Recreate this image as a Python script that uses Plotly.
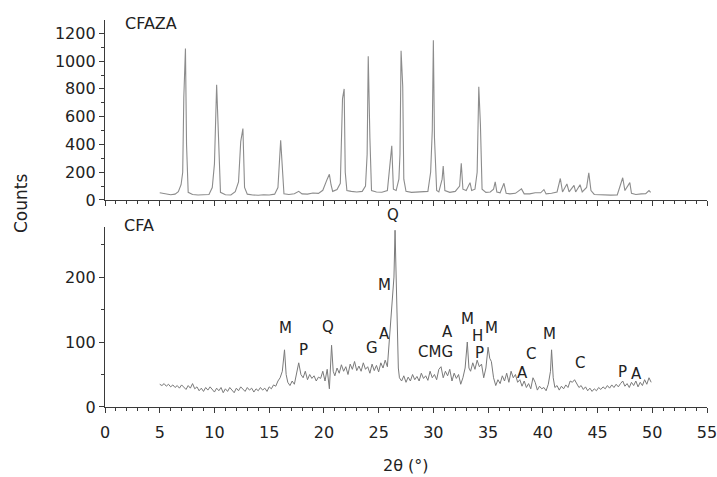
import plotly.graph_objects as go
from plotly.subplots import make_subplots

# ---------------- data ----------------
cfaza_2theta = [5.0, 5.5, 6.0, 6.4, 6.7, 6.95, 7.1, 7.2, 7.35, 7.45, 7.6, 8.0, 8.5, 9.0, 9.5, 9.8,
                10.0, 10.2, 10.3, 10.4, 10.55, 11.0, 11.5, 11.9, 12.2, 12.4, 12.6, 12.75, 13.0, 13.5,
                14.0, 14.5, 15.0, 15.5, 15.8, 16.05, 16.2, 16.35, 16.8, 17.3, 17.7, 18.0, 18.5, 19.0,
                19.5, 19.9, 20.3, 20.5, 20.65, 20.8, 21.2, 21.5, 21.7, 21.85, 21.95, 22.1, 22.5, 23.0,
                23.5, 23.8, 23.95, 24.05, 24.2, 24.35, 24.8, 25.3, 25.8, 26.05, 26.2, 26.35, 26.6,
                26.85, 26.95, 27.05, 27.2, 27.3, 27.5, 28.0, 28.5, 29.0, 29.5, 29.75, 29.9, 30.0,
                30.1, 30.3, 30.5, 30.8, 30.9, 31.05, 31.5, 32.0, 32.4, 32.55, 32.7, 33.0, 33.35,
                33.5, 33.8, 34.0, 34.15, 34.3, 34.45, 34.8, 35.2, 35.5, 35.65, 35.8, 36.1, 36.45,
                36.65, 37.0, 37.5, 38.05, 38.3, 38.8, 39.3, 39.8, 40.1, 40.3, 40.8, 41.3, 41.6,
                41.8, 42.2, 42.4, 42.85, 43.0, 43.4, 43.6, 44.0, 44.2, 44.4, 44.7, 45.5, 46.2,
                46.8, 47.3, 47.5, 47.95, 48.1, 48.5, 49.0, 49.4, 49.7, 49.85]
cfaza_counts = [52, 45, 38, 42, 60, 110, 200, 740, 1090, 400, 55, 40, 36, 38, 40, 90,
                260, 830, 600, 380, 55, 38, 36, 60, 130, 420, 515, 90, 42, 36,
                34, 38, 36, 42, 90, 430, 250, 45, 40, 45, 62, 44, 42, 50,
                48, 70, 150, 185, 110, 62, 75, 120, 730, 800, 200, 68, 62, 58,
                62, 100, 330, 1035, 450, 68, 58, 56, 68, 240, 390, 78, 68,
                150, 330, 1075, 820, 150, 62, 55, 58, 60, 62, 200, 500, 1150,
                450, 68, 58, 150, 245, 68, 55, 62, 100, 265, 78, 68, 125,
                68, 78, 200, 815, 540, 78, 55, 58, 78, 130, 58, 52, 120,
                48, 44, 48, 80, 44, 44, 52, 52, 75, 44, 48, 58, 155,
                58, 115, 58, 105, 58, 110, 58, 90, 195, 68, 40, 35, 35,
                36, 160, 68, 125, 48, 40, 44, 46, 68, 55]

cfa_2theta = [5.0, 5.2, 5.4, 5.6, 5.8, 6.0, 6.2, 6.4, 6.6, 6.8, 7.0, 7.2, 7.4, 7.6, 7.8, 8.0, 8.2,
              8.4, 8.6, 8.8, 9.0, 9.2, 9.4, 9.6, 9.8, 10.0, 10.2, 10.4, 10.6, 10.8, 11.0, 11.2,
              11.4, 11.6, 11.8, 12.0, 12.2, 12.4, 12.6, 12.8, 13.0, 13.2, 13.4, 13.6, 13.8, 14.0,
              14.2, 14.4, 14.6, 14.8, 15.0, 15.2, 15.4, 15.6, 15.8, 16.0, 16.2, 16.4, 16.55, 16.7,
              16.9, 17.1, 17.3, 17.5, 17.7, 17.9, 18.1, 18.3, 18.5, 18.7, 18.9, 19.1, 19.3, 19.5,
              19.7, 19.9, 20.1, 20.3, 20.5, 20.7, 20.85, 21.0, 21.2, 21.4, 21.6, 21.8, 22.0, 22.2,
              22.4, 22.6, 22.8, 23.0, 23.2, 23.4, 23.6, 23.8, 24.0, 24.2, 24.4, 24.6, 24.8, 25.0,
              25.2, 25.4, 25.6, 25.8, 26.0, 26.1, 26.2, 26.3, 26.4, 26.5, 26.6, 26.7, 26.8, 26.9,
              27.1, 27.3, 27.5, 27.7, 27.9, 28.1, 28.3, 28.5, 28.7, 28.9, 29.1, 29.3, 29.5, 29.7,
              29.9, 30.1, 30.3, 30.5, 30.7, 30.9, 31.1, 31.3, 31.5, 31.7, 31.9, 32.1, 32.3, 32.5,
              32.7, 32.9, 33.1, 33.25, 33.4, 33.6, 33.8, 34.0, 34.2, 34.4, 34.6, 34.8, 35.0, 35.15,
              35.3, 35.5, 35.7, 35.9, 36.1, 36.3, 36.5, 36.7, 36.9, 37.1, 37.3, 37.5, 37.7, 37.9,
              38.1, 38.3, 38.5, 38.7, 38.9, 39.1, 39.3, 39.5, 39.7, 39.9, 40.1, 40.3, 40.5, 40.7,
              40.8, 40.95, 41.1, 41.3, 41.5, 41.7, 41.9, 42.1, 42.3, 42.5, 42.7, 42.9, 43.1, 43.3,
              43.5, 43.7, 43.9, 44.1, 44.3, 44.5, 44.7, 44.9, 45.1, 45.3, 45.5, 45.7, 45.9, 46.1,
              46.3, 46.5, 46.7, 46.9, 47.1, 47.3, 47.5, 47.7, 47.9, 48.1, 48.3, 48.5, 48.7, 48.9,
              49.1, 49.3, 49.5, 49.7, 49.9]
cfa_counts = [35, 33, 36, 32, 35, 31, 34, 30, 33, 29, 34, 30, 27, 33, 29, 36, 28,
              31, 25, 29, 24, 30, 26, 31, 27, 23, 29, 25, 30, 22, 28, 24,
              30, 26, 22, 29, 25, 31, 27, 24, 30, 26, 29, 23, 28, 25,
              30, 26, 29, 24, 31, 28, 34, 32, 40, 45, 55, 88, 50, 38,
              33, 40, 35, 52, 68, 50, 45, 55, 42, 50, 44, 48, 40, 46,
              44, 55, 40, 58, 28, 95, 55, 48, 60, 52, 65, 55, 62, 50,
              66, 58, 70, 56, 63, 55, 68, 58, 62, 52, 66, 56, 64, 54,
              68, 60, 72, 62, 110, 130, 150, 170, 200, 272, 210, 120, 60, 45,
              40, 48, 38, 46, 40, 50, 42, 47, 40, 52, 44, 48, 41, 55,
              45, 50, 42, 58, 62, 45, 55, 48, 58, 40, 52, 44, 50, 35,
              45, 60, 100, 60, 55, 68, 58, 72, 62, 66, 45, 60, 92, 75,
              70, 45, 33, 42, 36, 48, 40, 52, 38, 55, 45, 50, 38, 42,
              32, 40, 30, 36, 28, 45, 38, 26, 32, 28, 30, 25, 35, 55,
              88, 45, 30, 33, 26, 32, 28, 34, 30, 40, 38, 42, 35, 30,
              33, 27, 31, 25, 29, 24, 28, 25, 30, 27, 31, 28, 33, 29,
              34, 30, 35, 31, 36, 40, 32, 36, 30, 38, 33, 40, 31, 38,
              33, 42, 35, 45, 38]

phase_labels = ["M", "P", "Q", "G", "A", "M", "Q", "CMG", "A", "M", "H", "M", "P", "A", "C", "M", "C", "P", "A"]
phase_x = [16.45, 18.1, 20.4, 24.4, 25.5, 25.5, 26.3, 30.15, 31.25, 33.15, 34.0, 35.35, 34.25, 38.15, 38.95, 40.65, 43.4, 47.3, 48.6]
phase_y = [121, 88, 123, 91, 112, 188, 295, 84, 115, 135, 109, 121, 83, 53, 82, 112, 68, 54, 51]

top_ticks = [0, 200, 400, 600, 800, 1000, 1200]
bottom_ticks = [0, 100, 200]
x_ticks = [0, 5, 10, 15, 20, 25, 30, 35, 40, 45, 50, 55]

# ---------------- figure ----------------
FONT = "DejaVu Sans"
AX = "#3a3a3a"
TXT = "#222222"

fig = make_subplots(rows=2, cols=1, vertical_spacing=0.07)

fig.add_trace(go.Scatter(x=cfaza_2theta, y=cfaza_counts, mode="lines",
                         line=dict(color="#8c8c8c", width=1.1), showlegend=False), row=1, col=1)
fig.add_trace(go.Scatter(x=cfa_2theta, y=cfa_counts, mode="lines",
                         line=dict(color="#7a7a7a", width=1.0), showlegend=False), row=2, col=1)

common_x = dict(range=[0, 55], showline=True, linecolor=AX, linewidth=1.3,
                ticks="outside", tickcolor=AX, ticklen=5, tickwidth=1.3,
                tickvals=x_ticks, showgrid=False, zeroline=False, automargin=False,
                minor=dict(dtick=1, ticks="outside", ticklen=3, tickcolor=AX, tickwidth=1.1))
fig.update_xaxes(**common_x, domain=[0, 1])
fig.update_xaxes(showticklabels=False, row=1, col=1)
fig.update_xaxes(ticktext=[str(v) for v in x_ticks], ticklabelstandoff=6,
                 ticklabeloverflow="allow", row=2, col=1)

fig.update_yaxes(range=[0, 1296], tickvals=top_ticks, domain=[0.5349, 1.0],
                 showline=True, linecolor=AX, linewidth=1.3, ticks="outside", automargin=False,
                 tickcolor=AX, ticklen=5, tickwidth=1.3, showgrid=False, zeroline=False,
                 minor=dict(dtick=100, ticks="outside", ticklen=3, tickcolor=AX, tickwidth=1.1),
                 row=1, col=1)
fig.update_yaxes(range=[0, 277], tickvals=bottom_ticks, domain=[0, 0.4651],
                 showline=True, linecolor=AX, linewidth=1.3, ticks="outside", automargin=False,
                 tickcolor=AX, ticklen=5, tickwidth=1.3, showgrid=False, zeroline=False,
                 minor=dict(dtick=50, ticks="outside", ticklen=3, tickcolor=AX, tickwidth=1.1),
                 row=2, col=1)

ann = []
for lab, x, y in zip(phase_labels, phase_x, phase_y):
    if y > 277:
        ann.append(dict(text=lab, x=x, y=(407 - 215) / 387, xref="x2", yref="paper",
                        xanchor="center", yanchor="middle",
                        showarrow=False, font=dict(family=FONT, size=15, color=TXT)))
    else:
        ann.append(dict(text=lab, x=x, y=y, xref="x2", yref="y2",
                        xanchor="center", yanchor="middle",
                        showarrow=False, font=dict(family=FONT, size=15, color=TXT)))

def paper_text(text, px, py, size=16, angle=0):
    return dict(text=text, x=(px - 105) / 602, y=(407 - py) / 387, xref="paper", yref="paper",
                xanchor="center", yanchor="middle", textangle=angle,
                showarrow=False, font=dict(family=FONT, size=size, color=TXT))

ann.append(paper_text("CFAZA", 151, 23))
ann.append(paper_text("CFA", 139, 225))
ann.append(paper_text("2θ (°)", 406, 465))
ann.append(paper_text("Counts", 21, 204, size=17, angle=-90))

fig.update_layout(
    width=717, height=477,
    margin=dict(l=105, r=10, t=20, b=70, autoexpand=False),
    paper_bgcolor="white", plot_bgcolor="white",
    font=dict(family=FONT, size=16, color=TXT),
    annotations=ann,
    showlegend=False,
)

fig.write_html("out.html")
